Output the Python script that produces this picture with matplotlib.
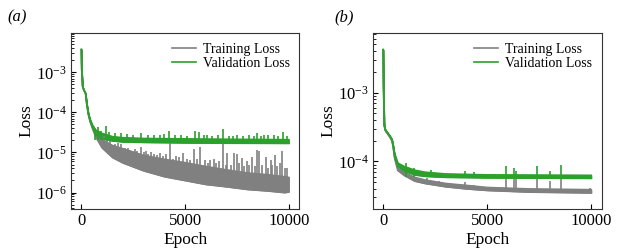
import matplotlib
matplotlib.use("Agg")
import matplotlib.pyplot as plt

plt.rcParams["font.family"] = ["Liberation Serif", "DejaVu Serif"]
plt.rcParams["mathtext.fontset"] = "stix"

GREY = "#808080"
GREEN = "#2ca02c"

# ---- panel (a) ----
a_train_ep = [0, 15, 60, 120, 200, 260, 340, 420, 530, 700, 1000, 1500, 2000, 3000, 4000, 5000, 6000, 7000, 8000, 9000, 9800, 10000]
a_train_lo = [3.7e-3, 1.2e-3, 4.4e-4, 3.6e-4, 3.0e-4, 1.6e-4, 8.7e-5, 5.8e-5, 4.0e-5, 2.4e-5, 1.3e-5, 7.5e-6, 5.5e-6, 3.5e-6, 2.5e-6, 2.0e-6, 1.6e-6, 1.4e-6, 1.2e-6, 1.1e-6, 1.0e-6, 1.05e-6]
a_train_hi = [3.7e-3, 1.2e-3, 4.4e-4, 3.6e-4, 3.0e-4, 1.6e-4, 9.0e-5, 6.2e-5, 4.5e-5, 3.0e-5, 2.1e-5, 1.5e-5, 1.25e-5, 8.5e-6, 6.8e-6, 5.6e-6, 4.5e-6, 3.7e-6, 3.1e-6, 2.8e-6, 2.5e-6, 2.4e-6]
a_train_spk_ep = [1100, 1250, 1400, 1600, 1750, 1900, 2100, 2250, 2440, 2600, 2700, 2850, 3000, 3100, 3200, 3350, 3490, 3650, 3810, 3950,
                  4100, 4260, 4400, 4570, 4700, 4900, 5100, 5250, 5420, 5550, 5740, 5980, 6100, 6220, 6380, 6500, 6650, 6835, 6950, 7030,
                  7200, 7350, 7480, 7600, 7750, 7850, 7990, 8100, 8230, 8350, 8475, 8555, 8700, 8910, 9000, 9115, 9200, 9310, 9450, 9550,
                  9680, 9800, 9900]
a_train_spk_base = [1.9e-5, 1.7e-5, 1.5e-5, 1.35e-5, 1.25e-5, 1.2e-5, 1.1e-5, 1.0e-5, 9.2e-6, 8.8e-6, 8.4e-6, 7.8e-6, 7.5e-6, 7.3e-6, 7.1e-6, 6.9e-6, 6.6e-6, 6.4e-6, 6.2e-6, 6.0e-6,
                    5.9e-6, 5.7e-6, 5.6e-6, 5.4e-6, 5.3e-6, 5.1e-6, 4.9e-6, 4.7e-6, 4.6e-6, 4.4e-6, 4.2e-6, 4.0e-6, 3.9e-6, 3.8e-6, 3.7e-6, 3.6e-6, 3.5e-6, 3.4e-6, 3.3e-6, 3.3e-6,
                    3.2e-6, 3.1e-6, 3.1e-6, 3.0e-6, 2.9e-6, 2.9e-6, 2.8e-6, 2.8e-6, 2.7e-6, 2.7e-6, 2.6e-6, 2.6e-6, 2.6e-6, 2.5e-6, 2.5e-6, 2.5e-6, 2.45e-6, 2.4e-6, 2.4e-6, 2.35e-6,
                    2.3e-6, 2.3e-6, 2.25e-6]
a_train_spk_pk = [2.6e-5, 2.2e-5, 2.0e-5, 1.6e-5, 1.7e-5, 1.6e-5, 1.3e-5, 1.3e-5, 1.0e-5, 1.2e-5, 1.1e-5, 1.4e-5, 1.0e-5, 1.1e-5, 9e-6, 1.0e-5, 9e-6, 8.5e-6, 9.6e-6, 8e-6,
                  9e-6, 1.7e-5, 7e-6, 8e-6, 7.5e-6, 9.6e-6, 7e-6, 6.5e-6, 1.2e-5, 7e-6, 1.4e-5, 6.5e-6, 5.5e-6, 6.5e-6, 7e-6, 5.5e-6, 6e-6, 1.7e-5, 5e-6, 9.6e-6,
                  5e-6, 9.6e-6, 9e-6, 5.5e-6, 7.2e-6, 4.5e-6, 6e-6, 5e-6, 7.8e-6, 4.5e-6, 1.15e-5, 1.1e-5, 5e-6, 7.9e-6, 4e-6, 6.5e-6, 5e-6, 8.6e-6, 4.5e-6, 5.5e-6,
                  1.1e-5, 4e-6, 4e-6]

a_val_ep = [0, 15, 60, 120, 200, 260, 340, 420, 530, 700, 1000, 1500, 2000, 3000, 5000, 7000, 10000]
a_val_lo = [3.7e-3, 1.2e-3, 4.4e-4, 3.6e-4, 3.0e-4, 1.6e-4, 8.9e-5, 6.2e-5, 4.3e-5, 2.8e-5, 2.2e-5, 1.95e-5, 1.85e-5, 1.8e-5, 1.75e-5, 1.72e-5, 1.7e-5]
a_val_hi = [3.7e-3, 1.2e-3, 4.4e-4, 3.6e-4, 3.0e-4, 1.7e-4, 9.5e-5, 6.8e-5, 4.9e-5, 3.6e-5, 3.0e-5, 2.5e-5, 2.35e-5, 2.25e-5, 2.2e-5, 2.15e-5, 2.1e-5]
a_val_spk_ep = [650, 800, 950, 1175, 1350, 1600, 1900, 2200, 2500, 2850, 3200, 3500, 3800, 4000, 4210, 4500, 4800, 5100, 5465, 5660,
                5900, 6070, 6300, 6600, 6835, 7100, 7300, 7500, 7800, 8100, 8300, 8475, 8650, 8800, 9000, 9300, 9500, 9730, 9900]
a_val_spk_pk = [3.8e-5, 4.2e-5, 3.5e-5, 4.5e-5, 3.2e-5, 3.0e-5, 3.0e-5, 2.9e-5, 2.8e-5, 3.0e-5, 2.7e-5, 2.8e-5, 2.7e-5, 2.9e-5, 3.5e-5, 2.8e-5, 2.7e-5, 2.6e-5, 3.4e-5, 3.2e-5,
                2.7e-5, 2.8e-5, 2.6e-5, 2.7e-5, 3.8e-5, 2.6e-5, 2.6e-5, 2.8e-5, 2.6e-5, 2.7e-5, 2.6e-5, 3.0e-5, 2.6e-5, 2.8e-5, 2.7e-5, 2.8e-5, 2.6e-5, 3.2e-5, 2.6e-5]

# ---- panel (b) ----
b_train_ep = [0, 15, 50, 100, 300, 420, 480, 550, 700, 1000, 1500, 2000, 3000, 4000, 5000, 7000, 10000]
b_train_lo = [4.2e-3, 1.3e-3, 3.3e-4, 2.8e-4, 2.3e-4, 2.0e-4, 1.6e-4, 1.1e-4, 7.4e-5, 6.3e-5, 5.2e-5, 4.8e-5, 4.3e-5, 4.0e-5, 3.8e-5, 3.6e-5, 3.5e-5]
b_train_hi = [4.2e-3, 1.3e-3, 3.3e-4, 2.8e-4, 2.3e-4, 2.0e-4, 1.6e-4, 1.15e-4, 8.0e-5, 7.0e-5, 5.9e-5, 5.4e-5, 4.8e-5, 4.5e-5, 4.2e-5, 4.0e-5, 3.9e-5]
b_train_spk_ep = [1300, 2100, 2700, 3950, 4350, 5910, 6280, 6395, 7390, 8040, 8535, 9950]
b_train_spk_base = [5.8e-5, 5.2e-5, 4.9e-5, 4.0e-5, 4.0e-5, 3.8e-5, 3.8e-5, 3.8e-5, 3.7e-5, 3.6e-5, 3.6e-5, 3.5e-5]
b_train_spk_pk = [6.3e-5, 5.7e-5, 5.2e-5, 5.0e-5, 4.6e-5, 5.8e-5, 6.0e-5, 5.6e-5, 5.8e-5, 5.2e-5, 6.0e-5, 4.1e-5]

b_val_ep = [0, 15, 50, 100, 300, 420, 480, 550, 700, 1000, 1500, 2000, 3000, 5000, 10000]
b_val_lo = [4.2e-3, 1.3e-3, 3.4e-4, 2.9e-4, 2.4e-4, 2.1e-4, 1.7e-4, 1.2e-4, 8.5e-5, 7.3e-5, 6.4e-5, 6.1e-5, 5.9e-5, 5.8e-5, 5.7e-5]
b_val_hi = [4.2e-3, 1.3e-3, 3.4e-4, 2.9e-4, 2.4e-4, 2.1e-4, 1.7e-4, 1.3e-4, 9.5e-5, 8.5e-5, 7.5e-5, 7.0e-5, 6.6e-5, 6.4e-5, 6.3e-5]
b_val_spk_ep = [1100, 1500, 2300, 3950, 4350, 5910, 6280, 6395, 7390, 8040, 8535]
b_val_spk_pk = [9.5e-5, 8.0e-5, 7.4e-5, 7.3e-5, 6.9e-5, 8.7e-5, 8.0e-5, 7.2e-5, 8.5e-5, 7.2e-5, 8.9e-5]

fig = plt.figure(figsize=(6.34, 2.49), dpi=100)
ax_a = fig.add_axes([0.112, 0.161, 0.360, 0.706])
ax_b = fig.add_axes([0.588, 0.161, 0.361, 0.706])


def draw_series(ax, ep, lo, hi, spk_ep, spk_base, spk_pk, color, label):
    ax.fill_between(ep, lo, hi, color=color, lw=0.8)
    ax.plot(ep, lo, color=color, lw=1.2, label=label)
    ax.plot(ep, hi, color=color, lw=1.0)
    ax.vlines(spk_ep, spk_base, spk_pk, color=color, lw=1.2)


draw_series(ax_a, a_train_ep, a_train_lo, a_train_hi,
            a_train_spk_ep, a_train_spk_base, a_train_spk_pk, GREY, "Training Loss")
draw_series(ax_a, a_val_ep, a_val_lo, a_val_hi,
            a_val_spk_ep, [2.0e-5] * len(a_val_spk_ep), a_val_spk_pk, GREEN, "Validation Loss")
draw_series(ax_b, b_train_ep, b_train_lo, b_train_hi,
            b_train_spk_ep, b_train_spk_base, b_train_spk_pk, GREY, "Training Loss")
draw_series(ax_b, b_val_ep, b_val_lo, b_val_hi,
            b_val_spk_ep, [6.0e-5] * len(b_val_spk_ep), b_val_spk_pk, GREEN, "Validation Loss")

for ax in (ax_a, ax_b):
    ax.set_yscale("log")
    ax.set_xlim(-500, 10500)
    ax.set_xticks([0, 5000, 10000])
    ax.tick_params(axis="both", which="both", direction="in", labelsize=12)
    ax.tick_params(axis="both", which="major", length=3.5, width=0.8, pad=3)
    ax.tick_params(axis="y", which="minor", length=2, width=0.6)
    for s in ax.spines.values():
        s.set_linewidth(0.8)
        s.set_color("0.2")
    ax.set_xlabel("Epoch", fontsize=12.5, labelpad=2)
    ax.set_ylabel("Loss", fontsize=12.5, labelpad=1)
    ax.legend(loc="upper right", frameon=False, fontsize=10, handlelength=1.7,
              labelspacing=0.05, handletextpad=0.5, borderaxespad=0.3)

ax_a.set_ylim(3.9e-7, 9.5e-3)
ax_b.set_ylim(2.04e-5, 7.3e-3)

fig.text(0.012, 0.915, "(a)", fontsize=12, style="italic")
fig.text(0.528, 0.915, "(b)", fontsize=12, style="italic")

fig.savefig("out.png", dpi=100)
